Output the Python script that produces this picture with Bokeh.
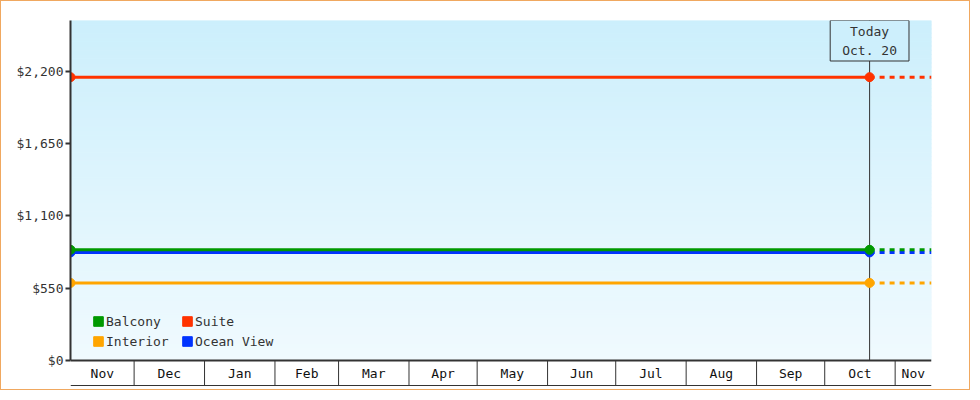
import datetime as dt
import numpy as np
from bokeh.plotting import figure
from bokeh.models import (Range1d, FixedTicker, Legend, LegendItem, Label, Span,
                          NumeralTickFormatter)
from bokeh.embed import file_html
from bokeh.resources import INLINE

# ---------------- data ----------------
start_date = dt.datetime(2024, 11, 3)
today = dt.datetime(2025, 10, 20, 18)
end_date = dt.datetime(2025, 11, 17)
today_label = "Today\nOct. 20"

series_names = ["Balcony", "Suite", "Interior", "Ocean View"]
series_prices = [842, 2155, 590, 822]
series_colors = ["#009900", "#ff3300", "#ffa500", "#0033ff"]
draw_order = ["Ocean View", "Interior", "Suite", "Balcony"]
legend_order = ["Balcony", "Interior", "Suite", "Ocean View"]  # column-major fill of a 2x2 grid

month_boundaries = [dt.datetime(2024, 12, 1), dt.datetime(2025, 1, 1), dt.datetime(2025, 2, 1),
                    dt.datetime(2025, 3, 1), dt.datetime(2025, 4, 1), dt.datetime(2025, 5, 1),
                    dt.datetime(2025, 6, 1), dt.datetime(2025, 7, 1), dt.datetime(2025, 8, 1),
                    dt.datetime(2025, 9, 1), dt.datetime(2025, 10, 1), dt.datetime(2025, 11, 1)]
month_labels = ["Nov", "Dec", "Jan", "Feb", "Mar", "Apr", "May", "Jun", "Jul", "Aug", "Sep", "Oct", "Nov"]

y_ticks = [0, 550, 1100, 1650, 2200]

# ---------------- style ----------------
FONT = "DejaVu Sans Mono"
FS = "13px"
INK = "#333333"
top_rgb = np.array([204, 239, 252])
bottom_rgb = np.array([240, 250, 254])

y_top = 1.2 * max(series_prices)
y_bot = -y_top * 28 / 340
band_bot = -y_top * 25 / 340

p = figure(width=970, height=390, x_axis_type="datetime", x_axis_location=None,
           x_range=Range1d(start_date, end_date), y_range=Range1d(y_bot, y_top),
           output_backend="svg", toolbar_location=None,
           min_border_left=69, min_border_right=40, min_border_top=19, min_border_bottom=3)
p.background_fill_color = "white"
p.border_fill_color = "white"
p.outline_line_color = None
p.grid.visible = False
p.styles = {"border": "1px solid #f0a860"}

# gradient background
n_bands = 80
edges = np.linspace(0, y_top, n_bands + 1)
t = (edges[:-1] + edges[1:]) / 2 / y_top
grad_colors = ["#%02x%02x%02x" % tuple(np.round(bottom_rgb + (top_rgb - bottom_rgb) * ti).astype(int)) for ti in t]
p.quad(left=start_date, right=end_date, bottom=edges[:-1], top=edges[1:],
       fill_color=grad_colors, line_color=grad_colors, line_width=1)

# y axis
ax = p.yaxis[0]
ax.ticker = FixedTicker(ticks=y_ticks)
ax.formatter = NumeralTickFormatter(format="$0,0")
ax.bounds = (0, y_top)
ax.axis_line_color = INK
ax.axis_line_width = 2
ax.major_tick_line_color = INK
ax.major_tick_line_width = 2
ax.major_tick_out = 5
ax.major_tick_in = 0
ax.minor_tick_line_color = None
ax.major_label_text_font = FONT
ax.major_label_text_font_size = FS
ax.major_label_text_color = INK
ax.major_label_standoff = 2

# month band
p.add_layout(Span(location=0, dimension="width", line_color=INK, line_width=2))
p.add_layout(Span(location=band_bot, dimension="width", line_color=INK, line_width=1))
p.segment(x0=month_boundaries, y0=[band_bot] * len(month_boundaries),
          x1=month_boundaries, y1=[0] * len(month_boundaries), line_color=INK, line_width=1)
edges_x = [start_date] + month_boundaries + [end_date]
centers = [a + (b - a) / 2 for a, b in zip(edges_x[:-1], edges_x[1:])]
p.text(x=centers, y=[band_bot / 2] * len(centers), text=month_labels,
       text_align="center", text_baseline="middle", text_font={"value": FONT},
       text_font_size=FS, text_color="#111111")

# today line
p.segment(x0=[today], y0=[0], x1=[today], y1=[y_top], line_color=INK, line_width=1)

# series
for name in draw_order:
    i = series_names.index(name)
    v = series_prices[i]
    c = series_colors[i]
    p.line([start_date, today], [v, v], line_color=c, line_width=3)
    p.line([today, end_date], [v, v], line_color=c, line_width=3, line_dash="5 5")
    p.scatter([start_date, today], [v, v], size=9, fill_color=c, line_color=c)

# legend
items = []
for name in legend_order:
    c = series_colors[series_names.index(name)]
    r = p.quad(left=[np.nan], right=[np.nan], bottom=[np.nan], top=[np.nan],
               fill_color=c, line_color=c)
    items.append(LegendItem(label=name, renderers=[r]))
legend = Legend(items=items, location=(22, 39), ncols=2,
                label_text_font=FONT, label_text_font_size=FS, label_text_color=INK,
                label_height=16, label_width=71, glyph_width=12, glyph_height=12,
                label_standoff=2, spacing=4, padding=0, margin=0,
                border_line_color=None, background_fill_alpha=0)
p.add_layout(legend)

# today label
p.add_layout(Label(x=today, y=y_top, y_offset=0, text=today_label, text_align="center",
                   text_baseline="top", text_font=FONT, text_font_size=FS, text_color=INK,
                   text_line_height=1.3, padding=(12, 3),
                   background_fill_color="#cdeffc", border_line_color=INK, border_line_width=1))

open("out.html", "w").write(file_html(p, INLINE))
